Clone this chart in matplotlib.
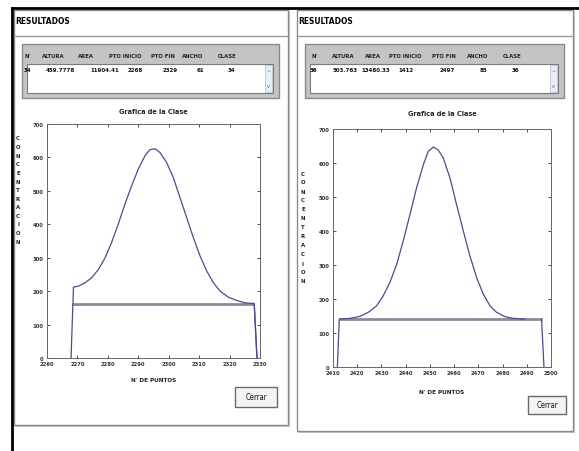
import matplotlib
matplotlib.use("Agg")
import matplotlib.pyplot as plt
from matplotlib.patches import Rectangle

plt.rcParams['font.family'] = ['DejaVu Sans']
plt.rcParams['font.stretch'] = 'condensed'

# ---- data ----
headers = ["N'", "ALTURA", "AREA", "PTO INICIO", "PTO FIN", "ANCHO", "CLASE"]
left_row = ["34", "459.7778", "11904.41", "2268", "2329", "61", "34"]
right_row = ["36", "503.763", "13480.33", "1412", "2497", "85", "36"]

# left class: curve including the vertical edges
left_x = [2267.9, 2268.7, 2270.3, 2272.5, 2274.7, 2276.9, 2279.1, 2281.2, 2283.4,
          2285.6, 2287.8, 2290.0, 2292.2, 2293.8, 2295.5, 2297.1, 2299.3, 2301.5,
          2303.7, 2305.9, 2308.1, 2310.3, 2312.5, 2314.7, 2316.9, 2319.6, 2322.4,
          2325.1, 2327.8, 2328.1, 2329.0]
left_y = [0, 212, 215, 225, 240, 265, 300, 345, 400,
          460, 515, 565, 605, 623, 626, 615, 585, 540,
          480, 420, 360, 305, 260, 225, 200, 182, 172,
          165, 163, 163, 0]
left_base = 163
left_base_x = [2268.1, 2328.1]
left_xticks = [2260, 2270, 2280, 2290, 2300, 2310, 2320, 2330]

# right class
right_x = [2411.8, 2412.6, 2417.0, 2421.1, 2424.6, 2428.0, 2430.8, 2433.5, 2436.3,
           2439.0, 2441.8, 2444.5, 2447.3, 2449.3, 2451.4, 2453.4, 2455.5, 2458.3,
           2461.0, 2463.8, 2466.5, 2469.3, 2472.0, 2474.8, 2477.5, 2481.0, 2484.4,
           2489.2]
right_y = [0, 141, 143, 149, 161, 180, 210, 249, 302,
           371, 449, 527, 595, 634, 647, 639, 615, 556,
           478, 400, 327, 263, 215, 180, 161, 148, 143,
           141]
right_base = 141
right_base_x = [2412.6, 2496.1]
right_drop_x = [2496.1, 2497.1]
right_xticks = [2410, 2420, 2430, 2440, 2450, 2460, 2470, 2480, 2490, 2500]

yticks = [0, 100, 200, 300, 400, 500, 600, 700]

W, H = 579, 452
fig = plt.figure(figsize=(W / 100, H / 100), dpi=100)
fig.patch.set_facecolor('white')


def rect(x0, y0, x1, y1, z=-5, **kw):
    fig.patches.append(Rectangle((x0 / W, 1 - y1 / H), (x1 - x0) / W, (y1 - y0) / H,
                                 transform=fig.transFigure, figure=fig, zorder=z, **kw))


def txt(x, y, s, **kw):
    fig.text(x / W, 1 - y / H, s, **kw)


# outer black frame lines
fig.add_artist(plt.Line2D([12 / W, 1], [1 - 9 / H, 1 - 9 / H], color='black', lw=2,
                          transform=fig.transFigure))
fig.add_artist(plt.Line2D([12 / W, 12 / W], [0, 1 - 9 / H], color='black', lw=2,
                          transform=fig.transFigure))


def window(x0, x1, y0, y1, row, cols_h, cols_d, title_y, ax_box, xs, ys, base_x, base_y,
           drop_x, xticks, xlim, ylab_x, ylab_y, ylab_sp, xlab_y, btn):
    # window frame
    rect(x0 + 1, y0 + 1, x1 + 2, y1 + 2, z=-9, facecolor='#c8c8c8', edgecolor='none')
    rect(x0, y0, x1, y1, z=-8, facecolor='white', edgecolor='#8c8c8c', lw=1)
    fig.add_artist(plt.Line2D([x0 / W, x1 / W], [1 - 37 / H, 1 - 37 / H], color='#9a9a9a',
                              lw=1, transform=fig.transFigure))
    txt(x0 + 1, 22, "RESULTADOS", fontsize=6.0, fontweight='heavy', va='center')
    # table panel
    tx0, tx1 = x0 + 8, x1 - 9
    rect(tx0, 45, tx1, 99, z=-7, facecolor='#c4c4c4', edgecolor='#8a8a8a', lw=1)
    rect(tx0 + 5, 65, tx1 - 6, 94, z=-6, facecolor='white', edgecolor='#7a7a7a', lw=0.8)
    for h, cx in zip(headers, cols_h):
        txt(cx, 56, h, fontsize=4.2, fontweight='bold', ha='center', va='center', color='#222222')
    for v, cx in zip(row, cols_d):
        txt(cx, 71, v, fontsize=4.4, fontweight='bold', ha='center', va='center', color='#111111')
    # scrollbar arrows
    rect(tx1 - 14, 66, tx1 - 7, 93, z=-5, facecolor='#e8eef8', edgecolor='#b0b8c8', lw=0.5)
    txt(tx1 - 10.5, 72, "^", fontsize=4, ha='center', va='center', color='#3060c0')
    txt(tx1 - 10.5, 87, "v", fontsize=4, ha='center', va='center', color='#3060c0')
    # plot
    ax0, ay0, ax1, ay1 = ax_box
    txt((ax0 + ax1) / 2, title_y, "Grafica de la Clase", fontsize=5.2, fontweight='bold',
        ha='center', va='center', color='#222222')
    ax = fig.add_axes([ax0 / W, 1 - ay1 / H, (ax1 - ax0) / W, (ay1 - ay0) / H])
    ax.plot(base_x, [base_y, base_y], color='#8a8a9c', lw=2.0, solid_capstyle='butt')
    ax.plot(xs, ys, color='#4b4b8c', lw=0.9)
    ax.plot(drop_x, [base_y, 0], color='#4b4b8c', lw=0.9)
    ax.set_xlim(*xlim)
    ax.set_ylim(0, 700)
    ax.set_xticks(xticks)
    ax.set_yticks(yticks)
    ax.tick_params(direction='in', length=2.5, width=0.6, labelsize=4.2, top=True, right=True,
                   pad=2.5, colors='#333333')
    for lab in ax.get_xticklabels() + ax.get_yticklabels():
        lab.set_fontweight('bold')
    for sp in ax.spines.values():
        sp.set_color('#666666')
        sp.set_linewidth(0.7)
    for i, ch in enumerate("CONCENTRACION"):
        txt(ylab_x, ylab_y + i * ylab_sp, ch, fontsize=4.3, fontweight='bold', ha='center',
            va='center', color='#222222')
    txt((ax0 + ax1) / 2, xlab_y, "N' DE PUNTOS", fontsize=4.6, fontweight='bold', ha='center',
        va='center', color='#222222')
    bx0, by0, bx1, by1 = btn
    rect(bx0, by0, bx1, by1, z=-5, facecolor='#f4f4f4', edgecolor='#6a6a6a', lw=1)
    txt((bx0 + bx1) / 2, (by0 + by1) / 2, "Cerrar", fontsize=5.5, ha='center', va='center',
        color='#111111')


window(14, 288, 11, 426, left_row,
       [28, 53, 86, 125, 163, 193, 227], [28, 60, 105, 135, 170, 200, 232],
       112, (47, 125, 260, 359), left_x, left_y, left_base_x, left_base, [2328.1, 2329.0],
       left_xticks, (2260, 2330), 18, 139, 8.6, 381, (235, 388, 277, 408))

window(297, 573, 11, 432, right_row,
       [315, 343, 373, 405, 444, 478, 512], [314, 345, 376, 406, 447, 483, 515],
       114, (333, 130, 551, 368), right_x, right_y, right_base_x, right_base, right_drop_x,
       right_xticks, (2410, 2500), 303, 174, 9.0, 393, (528, 397, 566, 415))

fig.savefig("out.png", dpi=100, facecolor='white')
